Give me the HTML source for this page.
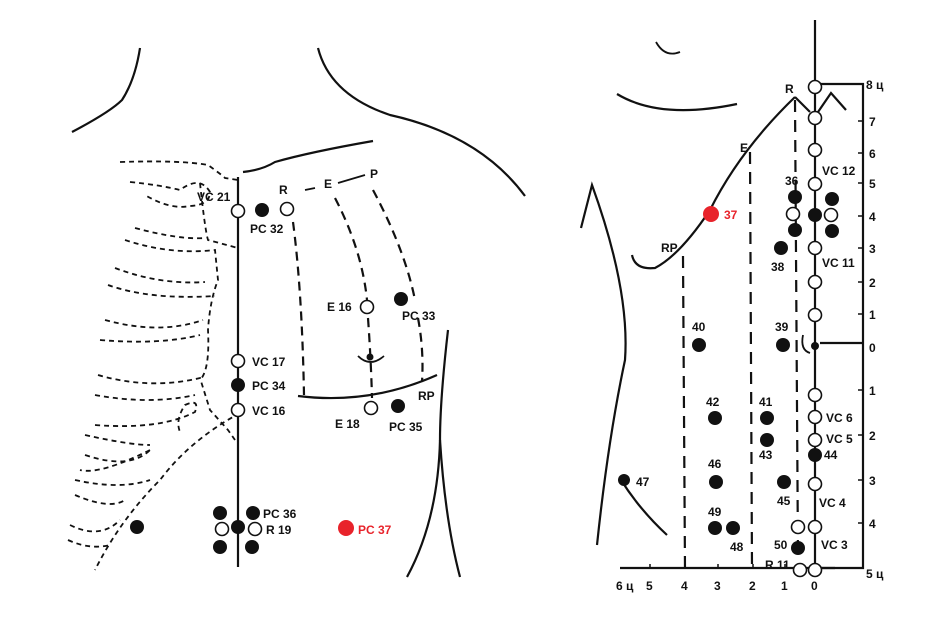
<!DOCTYPE html>
<html><head><meta charset="utf-8"><style>
html,body{margin:0;padding:0;background:#fff;}
svg{display:block;}
text{font-family:"Liberation Sans",sans-serif;font-weight:bold;font-size:12px;fill:#111;}
</style></head><body>
<svg width="952" height="632" viewBox="0 0 952 632" xmlns="http://www.w3.org/2000/svg">
<g fill="none" stroke="#111" stroke-width="2.2">
<!-- LEFT PANEL -->
<path d="M72,132 Q110,112 122,100 Q135,80 140,48"/>
<path d="M318,48 Q330,95 390,115 Q480,135 525,196"/>
<path d="M243,172 Q262,170 275,162 Q310,152 373,141"/>
<line x1="238" y1="177" x2="238" y2="567"/>
<path d="M298,396 Q370,405 437,375"/>
<path d="M448,330 Q440,400 440,440 Q438,520 407,577"/>
<path d="M440,440 Q445,520 460,577"/>
<path d="M358,356 Q370,368 384,356" stroke-width="1.8"/>
<g stroke-dasharray="9,6">
<path d="M293,222 Q302,290 304,395"/>
<path d="M335,198 Q362,250 367,300 M368,318 Q371,360 372,398"/>
<path d="M373,190 Q405,250 415,300 M418,318 Q424,350 422,382"/>
</g>
<path d="M305,190 L315,188 M338,183 L365,175" stroke-width="1.8"/>
<g stroke-dasharray="5,4" stroke-width="1.8">
<path d="M120,162 Q180,160 208,165 Q222,175 225,178 L238,180"/>
<path d="M130,182 Q160,185 180,190 Q200,175 210,192 Q210,205 190,206 Q170,210 145,195"/>
<path d="M200,183 Q205,230 208,240 L238,248"/>
<path d="M135,228 Q180,240 205,238"/>
<path d="M125,240 Q170,255 215,250 L218,280 Q210,300 208,330 Q210,370 200,380"/>
<path d="M115,268 Q160,285 205,282"/>
<path d="M108,285 Q150,300 215,296"/>
<path d="M105,320 Q160,335 203,320"/>
<path d="M100,340 Q160,345 200,335"/>
<path d="M98,375 Q150,390 200,378 L210,410 L228,430 L235,440"/>
<path d="M95,395 Q150,405 195,395"/>
<path d="M95,425 Q160,430 195,412 Q200,398 185,405 Q175,420 180,432"/>
<path d="M85,435 Q130,445 150,445"/>
<path d="M85,455 Q130,470 150,450 M150,450 Q100,475 80,470"/>
<path d="M75,480 Q120,490 150,480"/>
<path d="M75,495 Q110,510 125,500"/>
<path d="M70,525 Q100,540 120,520"/>
<path d="M68,540 Q90,550 110,545"/>
<path d="M240,413 Q190,440 160,480 Q120,520 95,570"/>
</g>
<!-- RIGHT PANEL -->
<path d="M617,94 Q660,120 737,104"/>
<path d="M656,42 Q665,58 680,52" stroke-width="1.8"/>
<path d="M815,20 L815,575"/>
<path d="M815,84 L863,84 L863,568 L815,568"/>
<path d="M820,343 L863,343"/>
<path d="M620,568 L835,568"/>
<path d="M795,97 Q740,150 710,210 Q680,255 655,268 Q635,270 632,255"/>
<path d="M795,97 L810,112 M818,112 L831,93 L846,110"/>
<path d="M581,228 L592,185 Q630,290 625,360 Q608,440 597,545"/>
<path d="M621,480 Q640,510 667,535"/>
<path d="M803,335 Q800,350 810,353" stroke-width="1.8"/>
<g stroke-dasharray="12,8">
<line x1="795" y1="100" x2="798" y2="560"/>
<line x1="750" y1="152" x2="752" y2="570"/>
<line x1="683" y1="256" x2="685" y2="570"/>
</g>
<g stroke-width="1.5">
<path d="M858,121 h5 M858,153 h5 M858,183 h5 M858,216 h5 M858,248 h5 M858,282 h5 M858,314 h5 M858,390 h5 M858,435 h5 M858,480 h5 M858,523 h5"/>
<path d="M650,568 v-4 M685,568 v-4 M718,568 v-4 M753,568 v-4 M785,568 v-4"/>
</g>
</g>
<!-- open circles -->
<g fill="#fff" stroke="#111" stroke-width="1.6">
<circle cx="238" cy="211" r="6.5"/><circle cx="287" cy="209" r="6.5"/>
<circle cx="367" cy="307" r="6.5"/><circle cx="238" cy="361" r="6.5"/>
<circle cx="238" cy="410" r="6.5"/><circle cx="371" cy="408" r="6.5"/>
<circle cx="222" cy="529" r="6.5"/><circle cx="255" cy="529" r="6.5"/>
<circle cx="815" cy="87" r="6.5"/><circle cx="815" cy="118" r="6.5"/>
<circle cx="815" cy="150" r="6.5"/><circle cx="815" cy="184" r="6.5"/>
<circle cx="815" cy="248" r="6.5"/><circle cx="815" cy="282" r="6.5"/>
<circle cx="815" cy="315" r="6.5"/><circle cx="815" cy="395" r="6.5"/>
<circle cx="815" cy="417" r="6.5"/><circle cx="815" cy="440" r="6.5"/>
<circle cx="815" cy="484" r="6.5"/><circle cx="815" cy="527" r="6.5"/>
<circle cx="798" cy="527" r="6.5"/><circle cx="815" cy="570" r="6.5"/>
<circle cx="800" cy="570" r="6.5"/>
<circle cx="793" cy="214" r="6.5"/><circle cx="831" cy="215" r="6.5"/>
</g>
<!-- black dots -->
<g fill="#111">
<circle cx="262" cy="210" r="7"/><circle cx="401" cy="299" r="7"/>
<circle cx="370" cy="357" r="3.5"/><circle cx="238" cy="385" r="7"/>
<circle cx="398" cy="406" r="7"/><circle cx="220" cy="513" r="7"/>
<circle cx="253" cy="513" r="7"/><circle cx="238" cy="527" r="7"/>
<circle cx="220" cy="547" r="7"/><circle cx="252" cy="547" r="7"/>
<circle cx="137" cy="527" r="7"/>
<circle cx="795" cy="197" r="7"/><circle cx="795" cy="230" r="7"/>
<circle cx="832" cy="199" r="7"/><circle cx="832" cy="231" r="7"/>
<circle cx="815" cy="215" r="7"/><circle cx="781" cy="248" r="7"/>
<circle cx="815" cy="346" r="4"/>
<circle cx="699" cy="345" r="7"/><circle cx="783" cy="345" r="7"/>
<circle cx="715" cy="418" r="7"/><circle cx="767" cy="418" r="7"/>
<circle cx="767" cy="440" r="7"/><circle cx="815" cy="455" r="7"/>
<circle cx="716" cy="482" r="7"/><circle cx="784" cy="482" r="7"/>
<circle cx="624" cy="480" r="6"/><circle cx="715" cy="528" r="7"/>
<circle cx="733" cy="528" r="7"/><circle cx="798" cy="548" r="7"/>
</g>
<circle cx="346" cy="528" r="8" fill="#e8232b"/>
<circle cx="711" cy="214" r="8" fill="#e8232b"/>
<!-- labels left -->
<text x="197" y="201">VC 21</text>
<text x="250" y="233">PC 32</text>
<text x="279" y="194">R</text>
<text x="324" y="188">E</text>
<text x="370" y="178">P</text>
<text x="327" y="311">E 16</text>
<text x="402" y="320">PC 33</text>
<text x="252" y="366">VC 17</text>
<text x="252" y="390">PC 34</text>
<text x="252" y="415">VC 16</text>
<text x="335" y="428">E 18</text>
<text x="389" y="431">PC 35</text>
<text x="418" y="400">RP</text>
<text x="263" y="518">PC 36</text>
<text x="266" y="534">R 19</text>
<text x="358" y="534" style="fill:#e8232b">PC 37</text>
<!-- labels right -->
<text x="785" y="93">R</text>
<text x="740" y="152">E</text>
<text x="661" y="252">RP</text>
<text x="785" y="185">36</text>
<text x="724" y="219" style="fill:#e8232b">37</text>
<text x="771" y="271">38</text>
<text x="822" y="175">VC 12</text>
<text x="822" y="267">VC 11</text>
<text x="692" y="331">40</text>
<text x="775" y="331">39</text>
<text x="706" y="406">42</text>
<text x="759" y="406">41</text>
<text x="759" y="459">43</text>
<text x="824" y="459">44</text>
<text x="826" y="422">VC 6</text>
<text x="826" y="443">VC 5</text>
<text x="708" y="468">46</text>
<text x="777" y="505">45</text>
<text x="636" y="486">47</text>
<text x="819" y="507">VC 4</text>
<text x="708" y="516">49</text>
<text x="730" y="551">48</text>
<text x="774" y="549">50</text>
<text x="821" y="549">VC 3</text>
<text x="765" y="569">R 11</text>
<text x="866" y="89">8 ц</text><text x="869" y="126">7</text><text x="869" y="158">6</text>
<text x="869" y="188">5</text><text x="869" y="221">4</text><text x="869" y="253">3</text>
<text x="869" y="287">2</text><text x="869" y="319">1</text><text x="869" y="352">0</text>
<text x="869" y="395">1</text><text x="869" y="440">2</text><text x="869" y="485">3</text>
<text x="869" y="528">4</text><text x="866" y="578">5 ц</text>
<text x="616" y="590">6 ц</text><text x="646" y="590">5</text><text x="681" y="590">4</text>
<text x="714" y="590">3</text><text x="749" y="590">2</text><text x="781" y="590">1</text>
<text x="811" y="590">0</text>
</svg>
</body></html>
